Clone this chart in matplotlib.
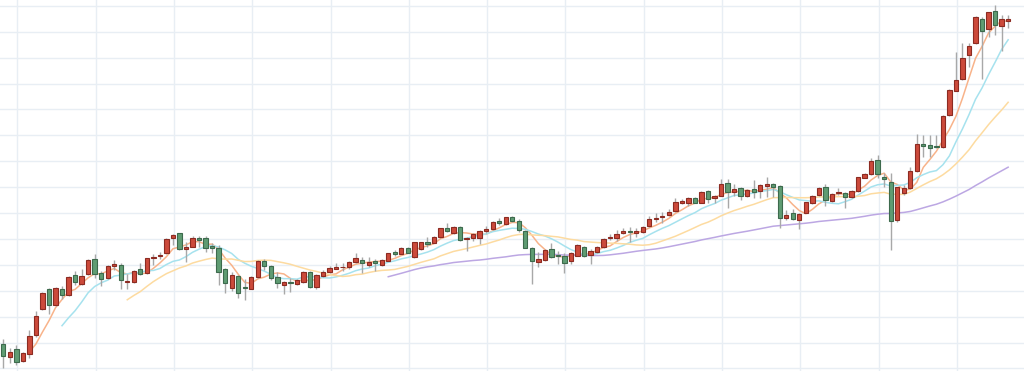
import numpy as np
import pandas as pd
import matplotlib
matplotlib.use('Agg')
import matplotlib.pyplot as plt

# OHLC values (one entry per trading day)
opens = [5.00, 3.73, 4.47, 3.35, 3.97, 5.90, 8.47, 10.50, 8.90, 10.50,
         9.90, 11.87, 10.97, 11.97, 13.50, 12.07, 11.60, 12.82, 12.95, 11.17,
         11.17, 12.50, 12.07, 13.57, 13.85, 14.07, 15.63, 16.07, 14.53, 14.73,
         15.63, 15.57, 14.80, 14.57, 12.47, 10.63, 11.80, 10.73, 10.55, 11.67,
         13.30, 12.80, 11.67, 10.90, 11.23, 10.97, 11.23, 12.23, 10.73, 11.83,
         12.17, 12.53, 12.67, 12.73, 13.23, 13.40, 12.90, 13.33, 12.95, 13.35,
         14.20, 14.03, 14.63, 13.67, 14.50, 15.17, 15.13, 15.73, 16.57, 16.10,
         16.73, 15.47, 15.57, 15.57, 16.33, 16.50, 17.30, 16.97, 17.75, 17.33,
         16.33, 14.63, 13.23, 13.40, 14.50, 13.87, 13.83, 13.35, 13.85, 14.73,
         13.90, 14.23, 14.70, 15.57, 15.63, 16.07, 16.30, 16.13, 16.17, 16.80,
         17.47, 17.70, 17.90, 18.30, 19.07, 19.13, 19.63, 19.13, 20.30, 19.63,
         19.83, 21.13, 20.17, 20.57, 19.83, 20.47, 20.33, 20.83, 21.00, 20.80,
         17.63, 18.07, 17.40, 18.13, 19.07, 19.90, 20.67, 19.30, 20.13, 20.13,
         19.67, 20.30, 21.63, 21.97, 23.40, 21.73, 21.17, 17.40, 20.13, 20.57,
         22.30, 25.00, 24.90, 24.83, 24.73, 27.90, 30.33, 31.47, 33.90, 35.07,
         37.50, 36.47, 38.30, 36.83, 37.33]
highs = [5.47, 4.63, 4.90, 4.20, 6.40, 8.35, 10.23, 10.63, 10.73, 10.80,
         11.80, 12.35, 12.47, 13.50, 14.00, 12.35, 12.90, 13.45, 13.07, 12.05,
         12.40, 13.07, 13.63, 14.00, 14.20, 15.57, 16.00, 16.13, 15.23, 15.77,
         15.83, 15.80, 15.07, 14.90, 12.60, 12.20, 11.90, 11.50, 11.77, 13.40,
         13.47, 12.90, 12.23, 11.30, 11.57, 11.47, 12.33, 12.33, 11.97, 12.40,
         12.80, 13.07, 13.07, 13.33, 14.07, 13.67, 13.67, 13.47, 13.47, 14.13,
         14.40, 14.73, 14.73, 15.23, 15.23, 15.67, 15.80, 16.63, 17.07, 16.80,
         16.80, 15.73, 16.13, 16.40, 16.83, 17.30, 17.63, 17.75, 17.85, 17.47,
         16.40, 14.73, 14.23, 14.47, 15.07, 14.35, 14.13, 14.20, 15.05, 14.85,
         14.47, 14.85, 15.57, 16.05, 16.40, 16.65, 16.73, 16.57, 16.80, 17.80,
         18.07, 18.23, 18.50, 19.57, 19.47, 19.73, 19.73, 20.30, 20.40, 19.90,
         21.47, 21.47, 21.00, 20.67, 20.47, 21.40, 21.00, 21.73, 21.07, 20.90,
         18.40, 18.50, 18.07, 19.23, 19.90, 20.73, 20.97, 20.13, 20.63, 20.23,
         20.40, 21.73, 22.07, 23.63, 23.90, 22.07, 22.07, 20.73, 20.90, 22.73,
         25.97, 25.90, 25.90, 25.90, 27.90, 30.47, 34.23, 35.07, 35.13, 37.80,
         37.73, 38.23, 38.90, 37.90, 37.90]
lows = [2.63, 3.15, 2.90, 3.25, 3.60, 5.70, 8.40, 8.05, 8.80, 9.50,
        9.85, 10.95, 10.90, 11.90, 11.65, 10.85, 11.50, 12.40, 10.50, 10.55,
        11.07, 11.90, 12.00, 12.95, 13.50, 14.00, 14.90, 14.40, 13.23, 14.67,
        14.73, 14.20, 14.07, 10.90, 10.10, 10.30, 9.60, 9.40, 10.47, 11.57,
        12.40, 11.40, 10.57, 10.00, 10.23, 10.90, 11.07, 10.57, 10.47, 11.73,
        12.07, 12.47, 12.33, 12.47, 13.13, 12.13, 12.73, 12.33, 12.85, 13.30,
        13.80, 13.97, 14.07, 13.63, 14.40, 14.73, 15.07, 15.63, 16.23, 16.00,
        15.33, 14.33, 15.30, 15.00, 16.07, 16.40, 16.90, 16.90, 17.23, 16.23,
        14.57, 10.97, 12.73, 13.30, 13.57, 12.97, 12.07, 13.00, 13.80, 13.73,
        13.00, 14.15, 14.57, 15.40, 15.30, 16.00, 15.25, 15.73, 16.13, 16.73,
        17.23, 17.07, 17.83, 18.23, 18.97, 18.80, 19.07, 19.07, 19.07, 19.07,
        19.80, 18.63, 19.80, 19.40, 19.73, 19.57, 19.57, 19.73, 19.73, 16.60,
        17.40, 17.40, 16.47, 18.07, 19.00, 19.83, 18.80, 19.23, 19.90, 18.63,
        19.57, 20.23, 21.57, 21.90, 21.57, 20.73, 14.40, 17.23, 19.90, 20.50,
        22.23, 23.73, 23.73, 24.57, 24.57, 27.83, 30.30, 31.40, 32.73, 35.00,
        31.50, 35.67, 35.90, 34.33, 36.57]
closes = [3.80, 4.17, 3.23, 4.07, 5.77, 7.77, 10.13, 8.90, 10.57, 9.90,
          11.70, 11.23, 11.83, 13.45, 12.00, 11.50, 12.77, 13.05, 11.40, 11.27,
          12.33, 11.97, 13.57, 13.70, 13.95, 15.47, 15.93, 14.47, 14.73, 15.57,
          15.45, 14.60, 14.60, 12.23, 11.07, 11.90, 10.07, 10.57, 11.70, 13.30,
          12.80, 11.60, 11.13, 11.20, 11.07, 11.40, 12.23, 10.73, 11.90, 12.17,
          12.57, 12.70, 12.75, 13.23, 13.63, 13.07, 13.23, 13.07, 13.40, 14.07,
          14.05, 14.63, 14.13, 15.17, 15.17, 14.97, 15.73, 16.57, 16.33, 16.67,
          15.40, 15.55, 16.03, 16.33, 16.50, 17.17, 17.07, 17.70, 17.35, 16.40,
          14.63, 13.33, 13.50, 14.40, 13.73, 13.80, 13.15, 14.07, 14.90, 13.83,
          14.33, 14.70, 15.47, 15.73, 16.00, 16.33, 16.20, 16.30, 16.73, 17.47,
          17.63, 17.80, 18.17, 19.17, 19.33, 19.63, 19.13, 20.23, 19.50, 19.83,
          20.97, 20.23, 20.50, 19.83, 20.40, 20.23, 20.90, 20.97, 20.73, 17.60,
          17.90, 17.50, 17.97, 19.17, 19.80, 20.63, 19.40, 20.00, 20.23, 19.73,
          20.30, 21.67, 21.97, 23.33, 21.97, 21.47, 17.33, 20.67, 20.57, 22.30,
          25.00, 24.80, 24.57, 24.70, 27.80, 30.40, 31.40, 33.57, 34.80, 37.67,
          36.33, 38.17, 36.90, 37.50, 37.47]

ma_windows = [5, 10, 20, 60]
ma_colors = ['#f8b38a', '#a6e2ee', '#fddba0', '#bca7e3']

df = pd.DataFrame({'open': opens, 'high': highs, 'low': lows, 'close': closes})
idx = np.arange(len(df))
up = df['close'] >= df['open']

fig = plt.figure(figsize=(10.24, 3.71), dpi=100)
ax = fig.add_axes([0, 0, 1, 1])

# grid
for y in np.arange(2.56, 39.5, 2.59):
    ax.axhline(y, color='#e8eef4', lw=1, zorder=0)
for x in np.arange(2.15, 157, 12):
    ax.axvline(x, color='#e8eef4', lw=1, zorder=0)

# moving averages
for n, col in zip(ma_windows, ma_colors):
    ma = df['close'].rolling(n).mean()
    ax.plot(idx, ma, color=col, lw=1.1, zorder=2)

# wicks
ax.vlines(idx, df['low'], df['high'], color='#a8a8a8', lw=1, zorder=3)

# bodies
body_h = (df['close'] - df['open']).abs().clip(lower=0.08)
body_b = df[['open', 'close']].min(axis=1)
ax.bar(idx[up], body_h[up], bottom=body_b[up], width=0.66,
       color='#cc4a3b', edgecolor='#8c2b22', lw=0.8, zorder=4)
ax.bar(idx[~up], body_h[~up], bottom=body_b[~up], width=0.66,
       color='#5f9c73', edgecolor='#3d6a4d', lw=0.8, zorder=4)

ax.set_xlim(-0.506, 156.43)
ax.set_ylim(2.3, 39.4)
ax.axis('off')

plt.savefig('out.png', dpi=100)
